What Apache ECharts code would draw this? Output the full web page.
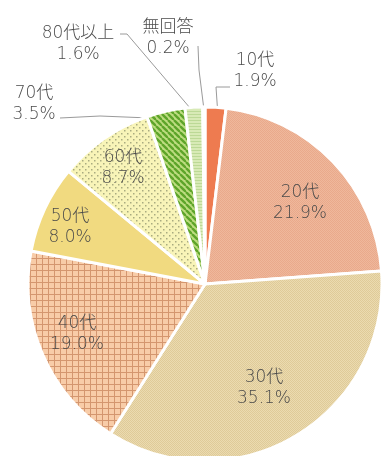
<!DOCTYPE html>
<html>
<head>
<meta charset="utf-8">
<script src="https://cdn.jsdelivr.net/npm/echarts@6/dist/echarts.min.js"></script>
<style>
  html, body { margin: 0; padding: 0; background: #ffffff; }
  #chart { width: 383px; height: 456px; }
</style>
</head>
<body>
<div id="chart"></div>
<script>
// Age groups and their share of respondents (%)
const categories = ['10代', '20代', '30代', '40代', '50代', '60代', '70代', '80代以上', '無回答'];
const shares = [1.9, 21.9, 35.1, 19.0, 8.0, 8.7, 3.5, 1.6, 0.2];

// Pie geometry (px)
const CX = 205, CY = 284, R = 177;

// --- fill patterns ------------------------------------------------------
function makeTile(w, h, draw) {
  const c = document.createElement('canvas');
  c.width = w; c.height = h;
  const g = c.getContext('2d');
  draw(g, w, h);
  return { image: c, repeat: 'repeat' };
}
function checker(base, dot) {
  return makeTile(2, 2, (g) => {
    g.fillStyle = base; g.fillRect(0, 0, 2, 2);
    g.fillStyle = dot; g.fillRect(0, 0, 1, 1); g.fillRect(1, 1, 1, 1);
  });
}
const fills = {
  '10代': '#ee7b50',
  '20代': checker('#efb89c', '#e9a98b'),
  '30代': checker('#ebdbb0', '#dfca98'),
  '40代': makeTile(6, 6, (g) => {
    g.fillStyle = '#f8cca8'; g.fillRect(0, 0, 6, 6);
    g.fillStyle = '#d4966f'; g.fillRect(0, 0, 6, 1); g.fillRect(0, 0, 1, 6);
  }),
  '50代': '#f1da80',
  '60代': makeTile(6, 6, (g) => {
    g.fillStyle = '#f8f4b8'; g.fillRect(0, 0, 6, 6);
    g.fillStyle = '#a9ab80';
    g.fillRect(1, 1, 1.5, 1.5); g.fillRect(4, 4, 1.5, 1.5);
  }),
  '70代': makeTile(6, 6, (g) => {
    g.fillStyle = '#bddc80'; g.fillRect(0, 0, 6, 6);
    g.strokeStyle = '#5ea52a'; g.lineWidth = 2.4;
    for (let k = -6; k <= 6; k += 6) {
      g.beginPath(); g.moveTo(k, 0); g.lineTo(k + 6, 6); g.stroke();
    }
  }),
  '80代以上': makeTile(2, 3, (g) => {
    g.fillStyle = '#d8eab6'; g.fillRect(0, 0, 2, 3);
    g.fillStyle = '#bcd996'; g.fillRect(0, 0, 2, 1);
  }),
  '無回答': '#e6efd6'
};

// --- label placement ----------------------------------------------------
// Inside labels sit at a fixed spot; outside labels get an elbowed leader
// line starting on the slice's arc (frac = position along the slice).
const labelSpots = {
  '10代':     { x: 255, y: 71, frac: 0.6, line: [[216, 87], [230, 87]] },
  '20代':     { x: 300, y: 203 },
  '30代':     { x: 264, y: 388 },
  '40代':     { x: 77,  y: 334 },
  '50代':     { x: 70,  y: 227 },
  '60代':     { x: 123, y: 168 },
  '70代':     { x: 34,  y: 104, frac: 0.05, line: [[100, 116], [60, 118]] },
  '80代以上': { x: 78,  y: 44,  frac: 0.35, line: [[127, 34], [120, 34]] },
  '無回答':   { x: 168, y: 38,  frac: 0.5,  line: [[199, 70], [198, 46]] }
};

const total = shares.reduce((a, b) => a + b, 0);
function arcPoint(index, frac) {
  let start = 0;
  for (let i = 0; i < index; i++) start += shares[i];
  const a = (start + shares[index] * frac) / total * 2 * Math.PI;
  return [CX + (R - 2) * Math.sin(a), CY - (R - 2) * Math.cos(a)];
}

const pieData = categories.map((name, i) => {
  const outside = !!labelSpots[name].line;
  return {
    name: name,
    value: shares[i],
    itemStyle: { color: fills[name] },
    label: { position: outside ? 'outside' : 'inside' },
    labelLine: { show: outside }
  };
});

const chart = echarts.init(document.getElementById('chart'), null, { renderer: 'canvas' });
chart.setOption({
  animation: false,
  backgroundColor: '#ffffff',
  series: [{
    type: 'pie',
    center: [CX, CY],
    radius: R,
    startAngle: 90,
    clockwise: true,
    avoidLabelOverlap: false,
    data: pieData,
    itemStyle: { borderColor: '#ffffff', borderWidth: 3 },
    label: {
      show: true,
      formatter: (p) => p.name + '\n' + shares[p.dataIndex].toFixed(1) + '%',
      color: '#4a4a4a',
      fontSize: 17,
      fontWeight: 200,
      lineHeight: 21,
      fontFamily: "'DejaVu Sans', 'Noto Sans CJK JP', sans-serif",
      align: 'center'
    },
    labelLine: {
      lineStyle: { color: '#9a9a9a', width: 1 }
    },
    emphasis: { disabled: true },
    labelLayout: function (p) {
      const name = categories[p.dataIndex];
      const s = labelSpots[name];
      const out = { x: s.x, y: s.y, align: 'center', verticalAlign: 'middle' };
      if (s.line) {
        out.labelLinePoints = [arcPoint(p.dataIndex, s.frac)].concat(s.line);
      }
      return out;
    }
  }]
});
</script>
</body>
</html>
